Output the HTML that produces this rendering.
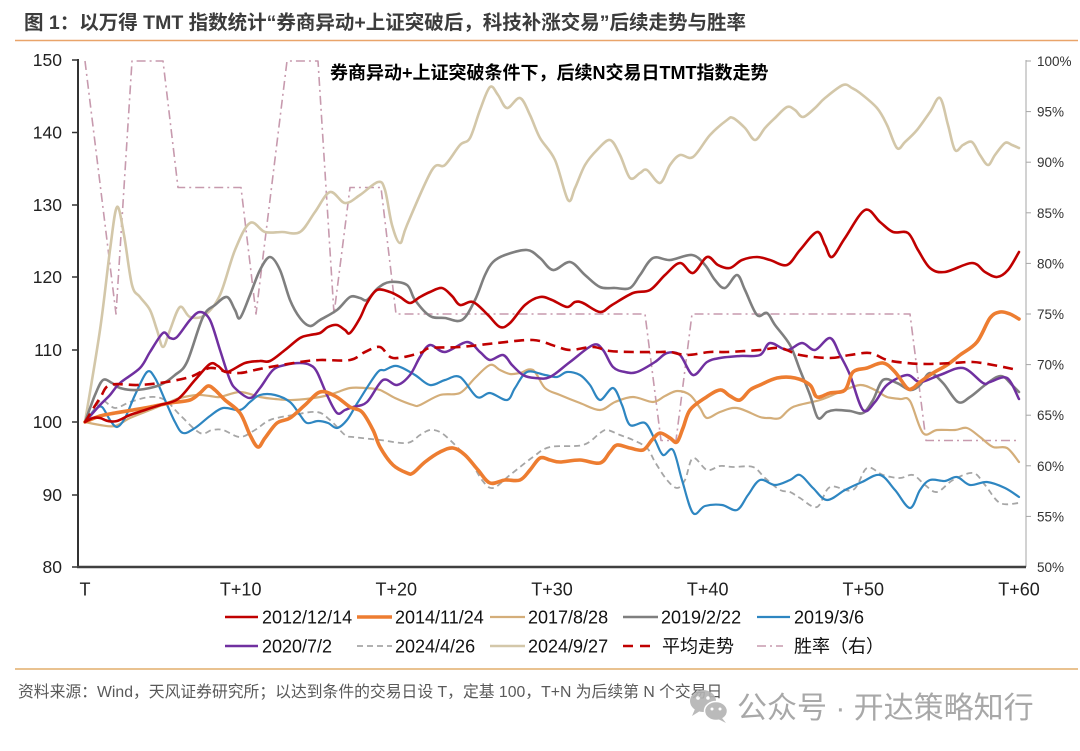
<!DOCTYPE html>
<html><head><meta charset="utf-8"><style>
html,body{margin:0;padding:0;background:#fff;}
svg{display:block;}
text{font-family:"Liberation Sans","Noto Sans CJK SC",sans-serif;}
</style></head><body>
<svg id="c" width="1080" height="751" viewBox="0 0 1080 751" xmlns="http://www.w3.org/2000/svg">
<rect width="1080" height="751" fill="#fff"/>
<!-- Title -->
<text x="24" y="29" font-size="19.5" font-weight="bold" fill="#3c3c3c">图 1：以万得 TMT 指数统计“券商异动+上证突破后，科技补涨交易”后续走势与胜率</text>
<line x1="15" y1="40.5" x2="1078" y2="40.5" stroke="#E9A46A" stroke-width="1.6"/>

<!-- chart title -->
<text x="330" y="79" font-size="18" font-weight="bold" fill="#000">券商异动+上证突破条件下，后续N交易日TMT指数走势</text>

<!-- left axis labels -->
<g font-size="17.5" fill="#222" text-anchor="end">
<text x="62" y="66">150</text>
<text x="62" y="138.5">140</text>
<text x="62" y="211">130</text>
<text x="62" y="283">120</text>
<text x="62" y="356">110</text>
<text x="62" y="428">100</text>
<text x="62" y="501">90</text>
<text x="62" y="573">80</text>
</g>
<g stroke="#333" stroke-width="1.5">
<line x1="72" y1="60" x2="78" y2="60"/><line x1="72" y1="132.5" x2="78" y2="132.5"/>
<line x1="72" y1="205" x2="78" y2="205"/><line x1="72" y1="277" x2="78" y2="277"/>
<line x1="72" y1="350" x2="78" y2="350"/><line x1="72" y1="422" x2="78" y2="422"/>
<line x1="72" y1="495" x2="78" y2="495"/><line x1="72" y1="567" x2="78" y2="567"/>
</g>

<!-- right axis -->
<line x1="1026" y1="60" x2="1026" y2="567" stroke="#A6A6A6" stroke-width="1"/>
<g stroke="#A6A6A6" stroke-width="1">
<line x1="1026" y1="61" x2="1031" y2="61"/><line x1="1026" y1="111.6" x2="1031" y2="111.6"/>
<line x1="1026" y1="162.2" x2="1031" y2="162.2"/><line x1="1026" y1="212.8" x2="1031" y2="212.8"/>
<line x1="1026" y1="263.4" x2="1031" y2="263.4"/><line x1="1026" y1="314" x2="1031" y2="314"/>
<line x1="1026" y1="364.6" x2="1031" y2="364.6"/><line x1="1026" y1="415.2" x2="1031" y2="415.2"/>
<line x1="1026" y1="465.8" x2="1031" y2="465.8"/><line x1="1026" y1="516.4" x2="1031" y2="516.4"/>
</g>
<g font-size="13.5" fill="#333">
<text x="1037" y="66">100%</text>
<text x="1037" y="116.6">95%</text>
<text x="1037" y="167.2">90%</text>
<text x="1037" y="217.8">85%</text>
<text x="1037" y="268.4">80%</text>
<text x="1037" y="319">75%</text>
<text x="1037" y="369.6">70%</text>
<text x="1037" y="420.2">65%</text>
<text x="1037" y="470.8">60%</text>
<text x="1037" y="521.4">55%</text>
<text x="1037" y="572">50%</text>
</g>

<!-- x labels -->
<g font-size="18" fill="#222" text-anchor="middle">
<text x="85" y="595.5">T</text>
<text x="240.7" y="595.5">T+10</text>
<text x="396.3" y="595.5">T+20</text>
<text x="552" y="595.5">T+30</text>
<text x="707.7" y="595.5">T+40</text>
<text x="863.3" y="595.5">T+50</text>
<text x="1019" y="595.5">T+60</text>
</g>

<!-- series -->
<g fill="none" stroke-linejoin="round" stroke-linecap="round">
<!-- win rate -->
<polyline stroke="#C79AAE" stroke-width="1.6" stroke-dasharray="9 4 2 4" stroke-linecap="butt" points="85,61 116,314 132,61 163,61 178,187.5 241,187.5 256,314 287,61 318,61 334,314 350,187.5 381,187.5 396,314 645,314 661,440.5 676,440.5 692,314 910,314 926,440.5 1019,440.5"/>

<!-- 2024/9/27 beige -->
<polyline class="s" stroke="#D3C7A9" stroke-width="2.6" points="85,422 100,330 110,250 117,207 124,235 132,285 140,297 150,310 157,330 163,347 170,330 180,307 190,317 205,315 220,295 235,250 250,223 265,232 282,232 300,232 315,212 330,192 345,203 360,195 378,182 385,190 392,225 400,243 407,225 432,170 445,165 460,145 470,138 480,110 490,87 498,95 507,108 520,98 530,115 540,138 555,160 568,200 575,188 585,165 597,150 610,140 620,155 630,178 640,173 647,170 660,183 670,165 680,155 693,157 710,135 727,120 733,118 745,128 755,140 765,128 775,118 787,107 795,110 803,117 815,108 825,98 843,85 852,88 860,93 877,108 887,125 897,148 905,142 917,130 930,112 940,98 948,125 955,150 963,145 972,142 980,155 988,165 995,155 1005,143 1012,145 1019,148"/>

<!-- 2017/8/28 tan -->
<polyline class="s" stroke="#D4AE7A" stroke-width="2.2" points="85,422 100,425 115,426 130,418 150,410 167,403 180,398 197,395 210,396 220,397 240,392 260,397 275,399 293,400 320,397 335,393 350,388 365,388 380,390 395,398 413,405 420,405 440,395 460,393 475,378 490,365 500,370 510,374 520,373 533,370 545,388 560,395 580,403 600,410 615,402 633,397 653,402 665,396 677,391 690,395 700,408 707,418 720,412 737,408 760,417 770,418 780,418 793,407 820,400 840,392 860,385 875,390 887,397 900,399 910,401 923,433 937,430 955,430 967,428 980,437 993,447 1007,448 1019,462"/>

<!-- 2024/4/26 gray dashed -->
<polyline class="s" stroke="#A6A6A6" stroke-width="1.8" stroke-dasharray="6 4" stroke-linecap="butt" points="85,422 95,408 102,400 115,408 130,402 150,397 165,400 180,415 200,433 212,430 223,430 240,437 255,430 270,420 293,415 317,412 330,420 345,435 353,437 380,440 407,443 420,435 430,430 440,432 450,440 460,450 470,460 482,480 493,488 510,475 533,457 550,447 583,445 600,433 607,430 620,435 633,440 647,448 655,462 667,480 677,488 685,480 693,458 707,470 720,466 733,467 753,467 765,478 780,490 790,492 800,498 817,507 830,487 853,490 867,468 883,475 900,478 913,475 925,485 937,492 953,480 973,473 985,485 1000,503 1019,503"/>

<!-- 2019/3/6 blue -->
<polyline class="s" stroke="#2E86C1" stroke-width="2.2" points="85,422 95,410 102,407 110,420 117,427 125,418 135,395 147,372 155,378 165,400 175,422 183,433 195,428 210,416 223,408 240,410 250,402 260,395 275,395 290,402 300,415 307,423 318,421 328,423 337,428 347,420 358,402 377,373 385,370 397,366 415,375 430,385 445,380 460,377 477,397 490,393 507,400 515,388 527,372 545,375 557,377 567,372 580,375 590,385 600,400 613,388 622,405 630,425 645,423 655,440 663,455 673,450 682,480 693,513 705,506 722,505 737,510 748,495 760,480 775,485 790,480 800,475 813,488 827,500 845,490 862,482 880,475 895,490 910,508 920,490 930,480 945,481 957,477 970,485 987,482 1005,488 1019,497"/>

<!-- 2019/2/22 gray -->
<polyline class="s" stroke="#7F7F7F" stroke-width="2.6" points="85,422 95,395 103,380 112,383 120,388 137,390 160,385 175,375 187,362 203,317 215,305 227,297 235,310 240,318 250,295 260,270 270,257 280,270 290,300 300,318 310,326 320,320 337,310 350,297 360,298 367,300 378,288 390,282 407,285 415,300 430,316 445,318 462,320 475,300 485,275 493,262 505,255 527,250 540,258 553,270 570,262 585,275 600,287 615,288 630,288 640,275 653,258 670,260 692,255 705,265 715,280 725,288 737,275 745,290 757,315 767,313 775,325 790,345 800,370 810,395 818,418 827,412 835,410 850,411 863,413 873,400 883,380 897,383 910,390 920,385 930,373 943,383 958,402 970,397 985,385 997,377 1004,377 1012,385 1019,392"/>

<!-- 2020/7/2 purple -->
<polyline class="s" stroke="#7030A0" stroke-width="2.5" points="85,422 100,405 110,395 120,383 140,368 150,352 163,333 170,338 177,337 190,320 200,312 210,320 220,350 230,380 237,390 250,398 260,388 273,370 285,365 300,363 310,365 317,372 327,395 337,413 345,410 353,407 367,402 383,380 397,385 410,375 420,357 430,345 445,352 467,342 480,352 490,360 503,355 512,365 523,375 535,378 550,377 570,362 593,345 603,350 613,367 625,372 637,372 655,362 667,353 680,355 693,375 707,362 720,358 740,356 760,355 770,343 787,350 802,343 815,350 830,338 840,355 850,375 863,410 875,402 887,385 907,375 920,382 940,375 963,368 983,383 990,382 1007,378 1019,399"/>

<!-- 2014/11/24 orange -->
<polyline class="s" stroke="#ED7D31" stroke-width="3.6" points="85,422 100,416 115,413 133,410 150,407 170,403 190,400 200,393 208,386 215,390 225,400 240,413 250,435 258,447 265,438 277,423 290,418 305,405 320,392 335,396 350,407 362,412 373,430 380,447 393,465 407,473 413,473 425,462 440,452 453,448 465,455 478,470 490,483 505,480 520,480 530,470 540,458 550,460 560,462 580,460 600,463 610,452 617,445 630,448 643,450 652,440 660,433 670,438 677,442 683,428 690,410 705,398 720,390 730,396 740,400 750,390 760,385 777,378 795,378 810,385 817,397 830,393 845,390 853,372 867,368 883,363 895,372 907,388 913,388 920,382 933,373 947,365 960,355 977,342 990,318 1000,312 1010,314 1019,319"/>

<!-- 2012/12/14 red -->
<polyline class="s" stroke="#C00000" stroke-width="2.6" points="85,422 93,418 100,418 108,421 117,421 130,415 145,410 160,405 178,399 195,380 210,364 218,366 227,372 245,363 260,361 270,361 285,350 300,338 310,335 320,333 328,327 337,325 345,330 350,333 360,318 367,303 377,290 390,292 400,297 410,303 420,297 430,292 442,288 452,296 460,305 473,302 488,315 500,327 510,323 525,305 540,297 552,300 567,307 575,302 583,303 600,312 612,305 633,293 650,290 665,275 680,263 693,273 707,257 718,265 730,268 742,260 757,257 770,260 787,265 800,250 817,232 825,245 832,257 845,238 865,210 880,222 893,232 908,233 918,250 930,268 945,272 972,263 985,272 997,277 1008,270 1019,252"/>

<!-- average dashed -->
<polyline class="s" stroke="#C00000" stroke-width="2.6" stroke-dasharray="10 6" stroke-linecap="butt" points="85,422 100,398 110,385 137,385 160,383 190,377 210,368 227,372 240,373 255,370 270,367 300,362 320,360 350,360 365,352 380,347 393,358 420,353 430,348 460,347 497,343 533,340 555,346 570,350 593,347 610,351 633,352 660,352 670,352 687,355 710,352 727,352 760,350 780,348 800,355 830,358 850,355 870,353 887,360 907,363 927,364 953,363 973,362 993,365 1013,369"/>
</g>

<!-- axes on top -->
<line x1="78" y1="59" x2="78" y2="567" stroke="#333" stroke-width="2"/>
<line x1="77" y1="567" x2="1026" y2="567" stroke="#404040" stroke-width="2.6"/>

<!-- legend -->
<g stroke-linecap="butt">
<line x1="225" y1="617" x2="258" y2="617" stroke="#C00000" stroke-width="2.6"/>
<line x1="357" y1="617" x2="392" y2="617" stroke="#ED7D31" stroke-width="3.6"/>
<line x1="490" y1="617" x2="525" y2="617" stroke="#D4AE7A" stroke-width="2.2"/>
<line x1="623" y1="617" x2="658" y2="617" stroke="#7F7F7F" stroke-width="2.6"/>
<line x1="757" y1="617" x2="790" y2="617" stroke="#2E86C1" stroke-width="2.2"/>
<line x1="225" y1="646" x2="258" y2="646" stroke="#7030A0" stroke-width="2.5"/>
<line x1="357" y1="646" x2="392" y2="646" stroke="#A6A6A6" stroke-width="1.8" stroke-dasharray="6 4"/>
<line x1="490" y1="646" x2="525" y2="646" stroke="#D3C7A9" stroke-width="2.6"/>
<line x1="623" y1="646" x2="655" y2="646" stroke="#C00000" stroke-width="2.6" stroke-dasharray="10 7"/>
<line x1="757" y1="646" x2="783" y2="646" stroke="#C79AAE" stroke-width="1.6" stroke-dasharray="9 4 2 4"/>
</g>
<g font-size="18" fill="#111">
<text x="262" y="623.5">2012/12/14</text>
<text x="395" y="623.5">2014/11/24</text>
<text x="528" y="623.5">2017/8/28</text>
<text x="661" y="623.5">2019/2/22</text>
<text x="794" y="623.5">2019/3/6</text>
<text x="262" y="652.5">2020/7/2</text>
<text x="395" y="652.5">2024/4/26</text>
<text x="528" y="652.5">2024/9/27</text>
<text x="662" y="652.5">平均走势</text>
<text x="794" y="652.5">胜率（右）</text>
</g>

<!-- footer -->
<line x1="15" y1="669" x2="1078" y2="669" stroke="#E2AE6C" stroke-width="1.6"/>
<text x="18" y="697" font-size="15.8" fill="#595959">资料来源：Wind，天风证券研究所；以达到条件的交易日设 T，定基 100，T+N 为后续第 N 个交易日</text>

<!-- watermark -->
<g opacity="0.9">
<ellipse cx="703" cy="701" rx="13" ry="11" fill="#B3B3B3"/>
<path d="M695,709 L692,716 L700,711 Z" fill="#B3B3B3"/>
<ellipse cx="716" cy="711" rx="11.5" ry="9.5" fill="#B3B3B3" stroke="#fff" stroke-width="1.5"/>
<path d="M722,718 L726,723 L718,719 Z" fill="#B3B3B3"/>
<circle cx="698" cy="698" r="1.8" fill="#fff"/><circle cx="708" cy="698" r="1.8" fill="#fff"/>
<circle cx="712" cy="709" r="1.5" fill="#fff"/><circle cx="720" cy="709" r="1.5" fill="#fff"/>
</g>
<text x="737" y="718" font-size="30" fill="#A8A8A8">公众号 · 开达策略知行</text>
</svg>
<script>
(function(){
  var ns="http://www.w3.org/2000/svg";
  var pls=document.querySelectorAll('polyline.s');
  for(var k=0;k<pls.length;k++){
    var pl=pls[k];
    var raw=pl.getAttribute('points').trim().split(/\s+/);
    var pts=[];
    for(var i=0;i<raw.length;i++){var a=raw[i].split(',');pts.push([+a[0],+a[1]]);}
    var d='M'+pts[0][0]+','+pts[0][1];
    for(var i=0;i<pts.length-1;i++){
      var p0=pts[i-1]||pts[i],p1=pts[i],p2=pts[i+1],p3=pts[i+2]||pts[i+1];
      var c1x=p1[0]+(p2[0]-p0[0])/6,c1y=p1[1]+(p2[1]-p0[1])/6;
      var c2x=p2[0]-(p3[0]-p1[0])/6,c2y=p2[1]-(p3[1]-p1[1])/6;
      d+=' C'+c1x.toFixed(1)+','+c1y.toFixed(1)+' '+c2x.toFixed(1)+','+c2y.toFixed(1)+' '+p2[0]+','+p2[1];
    }
    var p=document.createElementNS(ns,'path');
    for(var j=0;j<pl.attributes.length;j++){
      var at=pl.attributes[j];
      if(at.name!=='points'&&at.name!=='class')p.setAttribute(at.name,at.value);
    }
    p.setAttribute('d',d);
    pl.parentNode.replaceChild(p,pl);
  }
})();
</script>
</body></html>
